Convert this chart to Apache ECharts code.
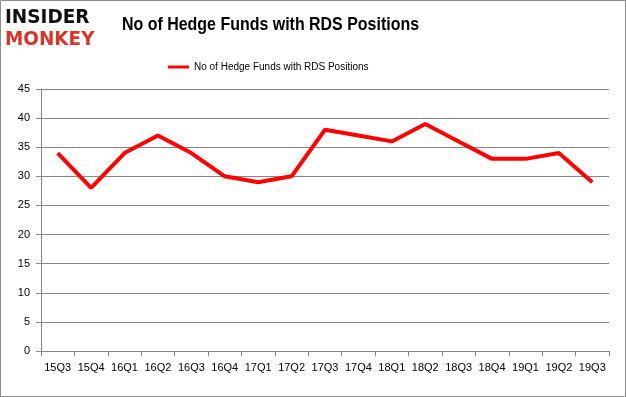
<!DOCTYPE html>
<html>
<head>
<meta charset="utf-8">
<script src="https://cdn.jsdelivr.net/npm/echarts@6/dist/echarts.min.js"></script>
<style>
  html, body { margin: 0; padding: 0; background: #fff; }
  #chart { width: 626px; height: 397px; }
</style>
</head>
<body>
<div id="chart"></div>
<script>
var quarters = ['15Q3', '15Q4', '16Q1', '16Q2', '16Q3', '16Q4', '17Q1', '17Q2', '17Q3',
  '17Q4', '18Q1', '18Q2', '18Q3', '18Q4', '19Q1', '19Q2', '19Q3']
var hedgeFunds = [34, 28, 34, 37, 34, 30, 29, 30, 38, 37, 36, 39, 36, 33, 33, 34, 29]
var seriesName = 'No of Hedge Funds with RDS Positions'

var chart = echarts.init(document.getElementById('chart'))
var gridColor = '#868686'
var option = {
  backgroundColor: '#fff',
  animation: false,
  textStyle: { fontFamily: 'Liberation Sans' },
  graphic: [
    {
      type: 'rect',
      shape: { x: 0.5, y: 0.5, width: 625, height: 396 },
      style: { fill: 'none', stroke: '#8c8c8c', lineWidth: 1 }
    },
    {
      type: 'text', x: 5, y: 9, scaleX: 0.97,
      style: { text: 'INSIDER', fill: '#111', font: '900 19px "DejaVu Sans"' }
    },
    {
      type: 'text', x: 5, y: 30, scaleX: 0.92,
      style: { text: 'MONKEY', fill: '#d8342a', font: '900 20px "DejaVu Sans"' }
    },
    {
      // title is condensed to match the narrow original face
      type: 'text', x: 122, y: 15, scaleX: 0.84,
      style: { text: 'No of Hedge Funds with RDS Positions', fill: '#000', font: 'bold 19px "Liberation Sans"' }
    }
  ],
  legend: {
    top: 57,
    left: 163,
    itemWidth: 21,
    itemHeight: 3,
    itemGap: 3,
    icon: 'rect',
    textStyle: { fontSize: 10, color: '#000' },
    data: [seriesName]
  },
  grid: { left: 41, right: 17, top: 89, bottom: 46 },
  xAxis: {
    type: 'category',
    data: quarters,
    boundaryGap: true,
    axisLine: { lineStyle: { color: gridColor } },
    axisTick: { show: true, length: 5, lineStyle: { color: gridColor } },
    axisLabel: { color: '#000', fontSize: 11, margin: 11, interval: 0 }
  },
  yAxis: {
    type: 'value',
    min: 0,
    max: 45,
    interval: 5,
    axisLine: { show: true, lineStyle: { color: gridColor } },
    axisTick: { show: true, length: 5, lineStyle: { color: gridColor } },
    axisLabel: { color: '#000', fontSize: 11, margin: 11 },
    splitLine: { lineStyle: { color: gridColor } }
  },
  series: [{
    name: seriesName,
    type: 'line',
    data: hedgeFunds,
    symbol: 'none',
    itemStyle: { color: '#ff0000' },
    lineStyle: { color: '#ff0000', width: 4 }
  }]
}
chart.setOption(option)
</script>
</body>
</html>
